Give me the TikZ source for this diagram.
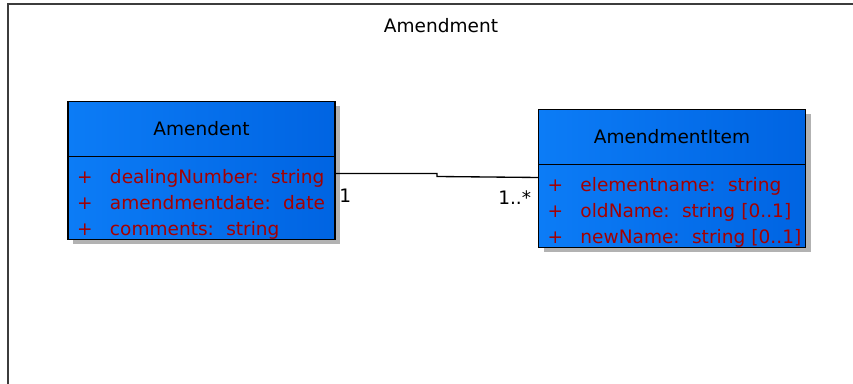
\documentclass[tikz,border=0pt]{standalone}
\usepackage{fontspec}
\setmainfont{DejaVu Sans}
\usetikzlibrary{positioning,shadows}

\definecolor{umlblue}{RGB}{12,124,246}
\definecolor{umlbluedark}{RGB}{0,100,226}
\definecolor{umlred}{RGB}{165,0,0}
\definecolor{framegray}{RGB}{60,60,60}

\newcommand{\attrrow}[1]{\mbox{\makebox[24.75pt][l]{+}#1}}

\begin{document}
\begin{tikzpicture}[
      x=0.75pt, y=-0.75pt,
      every node/.style={font=\fontsize{13.9}{19.5}\selectfont},
      classbox/.style={rectangle, draw=black, line width=0.9pt, outer sep=0pt,
                  minimum width=200.25pt,
                  left color=umlblue, right color=umlbluedark,
                  drop shadow={shadow xshift=3.75pt, shadow yshift=-3.75pt,
                               fill=black!30, opacity=1}},
      classhead/.style={classbox, minimum height=41.25pt, inner sep=0pt},
      attrbox/.style={classbox, minimum height=62.25pt, inner xsep=6.75pt,
                  inner ysep=0pt, text width=186.75pt, align=left,
                  text depth=32pt, text=umlred},
      assoc/.style={draw=black, line width=1pt},
      mult/.style={inner sep=0pt},
    ]

    % Frame and title
    \useasboundingbox (0,0) rectangle (853,384);
    \fill[white] (0,0) rectangle (853,384);
    \draw[framegray, line width=1.5pt] (8,400) -- (8,4) -- (870,4);
    \node (title) at (441,26) {Amendment};

    % Class: Amendent
    \node[classhead] (amendent) at (201.5,129) {Amendent};
    \node[attrbox, below=0pt of amendent] (amendentattr)
      {\attrrow{dealingNumber:\ \ string}\\
       \attrrow{amendmentdate:\ \ date}\\
       \attrrow{comments:\ \ string}};

    % Class: AmendmentItem
    \node[classhead] (item) at (672,137) {AmendmentItem};
    \node[attrbox, below=0pt of item] (itemattr)
      {\attrrow{elementname:\ \ string}\\
       \attrrow{oldName:\ \ string [0..1]}\\
       \attrrow{newName:\ \ string [0..1]}};

    % Association
    \draw[assoc] ([yshift=-12.75pt]amendentattr.north east) -- ++(102,0)
      -- ++(0,3) -- ([yshift=-9.75pt]itemattr.north west);
    \node[mult, anchor=west] (mult1) at (339,196) {1};
    \node[mult, anchor=west] (multmany) at (498,198) {1..*};

    \end{tikzpicture}
\end{document}
